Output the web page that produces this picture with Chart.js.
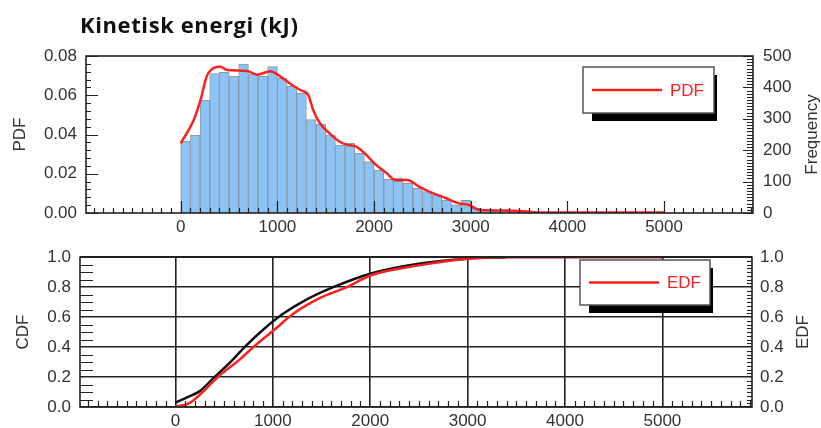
<!DOCTYPE html>
<html>
<head>
<meta charset="utf-8">
<title>Kinetisk energi</title>
<script src="https://cdn.jsdelivr.net/npm/chart.js@4.4.1/dist/chart.umd.min.js"></script>
<style>
    html, body { margin: 0; padding: 0; background: #fff; }
    #wrap { position: relative; width: 821px; height: 428px; overflow: hidden; }
    #title {
        position: absolute; left: 80px; top: 13px;
        font: 700 22px "Open Sans", sans-serif; line-height: 22px;
        letter-spacing: 0.6px; color: #111; white-space: nowrap;
    }
    #topBox { position: absolute; left: 0; top: 0; width: 821px; height: 238px; }
    #botBox { position: absolute; left: 0; top: 238px; width: 821px; height: 190px; }
</style>
</head>
<body>
<div id="wrap">
    <div id="topBox"><canvas id="pdfChart"></canvas></div>
    <div id="botBox"><canvas id="cdfChart"></canvas></div>
    <div id="title">Kinetisk energi (kJ)</div>
</div>
<script>
// Histogram: 100 kJ bins, value = PDF per bin
const binMid = [50, 150, 250, 350, 450, 550, 650, 750, 850, 950,
    1050, 1150, 1250, 1350, 1450, 1550, 1650, 1750, 1850, 1950,
    2050, 2150, 2250, 2350, 2450, 2550, 2650, 2750, 2850, 2950,
    3050, 3150, 3250, 3350, 3450, 3550];
const pdfBars = [0.0365, 0.0397, 0.0576, 0.0710, 0.0717, 0.0698, 0.0759, 0.0708, 0.0697, 0.0746,
    0.0688, 0.0646, 0.0610, 0.0476, 0.0453, 0.0397, 0.0346, 0.0355, 0.0304, 0.0262,
    0.0219, 0.0172, 0.0177, 0.0151, 0.0126, 0.0109, 0.0092, 0.0066, 0.0041, 0.0064,
    0.0025, 0.0015, 0.0010, 0.0008, 0.0004, 0.0003];

// Smoothed PDF curve
const pdfX = [0, 140, 205, 275, 410, 480, 685, 790, 925, 1030, 1130, 1235, 1320, 1370, 1440,
    1540, 1645, 1730, 1815, 1920, 2020, 2125, 2225, 2345, 2465, 2570, 2745, 2880, 2980,
    3095, 3450, 3700, 4200, 5000];
const pdfY = [0.0355, 0.0480, 0.0576, 0.0703, 0.0745, 0.0729, 0.0724, 0.0705, 0.0722, 0.0695,
    0.0660, 0.0627, 0.0601, 0.0525, 0.0457, 0.0406, 0.0363, 0.0346, 0.0338, 0.0296,
    0.0245, 0.0205, 0.0167, 0.0168, 0.0134, 0.0109, 0.0075, 0.0049, 0.0041, 0.0015,
    0.0012, 0.0003, 0.0002, 0.0002];

// Cumulative curves (black = CDF, red = EDF)
const cdfX = [0, 120, 250, 385, 590, 710, 900, 1105, 1345, 1620, 2000, 2515, 3000, 3400];
const cdfY = [0.030, 0.065, 0.106, 0.190, 0.317, 0.400, 0.516, 0.622, 0.717, 0.800, 0.890, 0.958, 0.990, 1.000];
const edfX = [0, 110, 180, 455, 660, 800, 1000, 1210, 1485, 1760, 2000, 2515, 3000, 3400, 5000];
const edfY = [0.004, 0.017, 0.042, 0.211, 0.317, 0.400, 0.507, 0.622, 0.728, 0.800, 0.878, 0.947, 0.990, 1.000, 1.000];

// Tick labels
const energyTicks = [0, 1000, 2000, 3000, 4000, 5000];
const pdfTicks = [0, 0.02, 0.04, 0.06, 0.08];
const freqTicks = [0, 100, 200, 300, 400, 500];
const probTicks = [0, 0.2, 0.4, 0.6, 0.8, 1.0];

const X_MIN = -980, X_MAX = 5920;
const labelFont = { family: 'Liberation Sans, Arial, sans-serif', size: 17 };
const labelColor = '#333';
const RED = '#ff1f1f';

const asTicks = arr => axis => { axis.ticks = arr.map(v => ({ value: v })); };

// inward tick marks + plot frame
const innerTicks = {
    id: 'innerTicks',
    afterDatasetsDraw(chart, args, opts) {
        const ctx = chart.ctx;
        const a = chart.chartArea;
        ctx.save();
        ctx.strokeStyle = '#222';
        ctx.lineWidth = 1.2;
        (opts.specs || []).forEach(spec => {
            const s = chart.scales[spec.scale];
            const first = Math.ceil(s.min / spec.step - 1e-9);
            ctx.beginPath();
            for (let i = first; i * spec.step <= s.max + 1e-9; i++) {
                const v = i * spec.step;
                const q = v / spec.major;
                const len = Math.abs(q - Math.round(q)) < 1e-6 ? spec.majorLen : spec.len;
                if (!len) continue;
                const p = Math.round(s.getPixelForValue(v)) + 0.5;
                if (spec.side === 'bottom') { ctx.moveTo(p, a.bottom); ctx.lineTo(p, a.bottom - len); }
                if (spec.side === 'left') { ctx.moveTo(a.left, p); ctx.lineTo(a.left + len, p); }
                if (spec.side === 'right') { ctx.moveTo(a.right, p); ctx.lineTo(a.right - len, p); }
            }
            ctx.stroke();
        });
        ctx.lineWidth = 1.6;
        ctx.strokeRect(a.left, a.top, a.right - a.left, a.bottom - a.top);
        ctx.restore();
    }
};

// boxed legend with drop shadow, and right-hand axis title read bottom-to-top
const boxLegend = {
    id: 'boxLegend',
    afterDraw(chart, args, o) {
        const ctx = chart.ctx;
        ctx.save();
        ctx.fillStyle = '#000';
        ctx.fillRect(o.x + 9, o.y + 8, o.w - 6, o.h);
        ctx.fillStyle = '#fff';
        ctx.fillRect(o.x, o.y, o.w, o.h);
        ctx.strokeStyle = '#555';
        ctx.lineWidth = 1.5;
        ctx.strokeRect(o.x, o.y, o.w, o.h);
        const cy = o.y + o.h / 2;
        ctx.strokeStyle = RED;
        ctx.lineWidth = 2.5;
        ctx.beginPath();
        ctx.moveTo(o.x + 9, cy);
        ctx.lineTo(o.x + 79, cy);
        ctx.stroke();
        ctx.fillStyle = RED;
        ctx.font = '17px "Liberation Sans", Arial, sans-serif';
        ctx.textBaseline = 'middle';
        ctx.fillText(o.label, o.x + 87, cy + 1);

        // right axis title
        const a = chart.chartArea;
        ctx.translate(o.rightTitleX, (a.top + a.bottom) / 2);
        ctx.rotate(-Math.PI / 2);
        ctx.fillStyle = labelColor;
        ctx.textAlign = 'center';
        ctx.fillText(o.rightTitle, 0, 0);
        ctx.restore();
    }
};

// ---- PDF / histogram chart ----
new Chart(document.getElementById('pdfChart'), {
    type: 'bar',
    data: {
        datasets: [
            {
                type: 'line',
                data: pdfX.map((x, i) => ({ x: x, y: pdfY[i] })),
                borderColor: RED,
                borderWidth: 2.5,
                pointRadius: 0,
                cubicInterpolationMode: 'monotone',
                order: 0
            },
            {
                type: 'bar',
                data: binMid.map((x, i) => ({ x: x, y: pdfBars[i] })),
                backgroundColor: '#8cc3f5',
                borderColor: '#8d97a3',
                borderWidth: 1,
                barPercentage: 1,
                categoryPercentage: 1,
                order: 1
            }
        ]
    },
    options: {
        responsive: true,
        maintainAspectRatio: false,
        animation: false,
        events: [],
        layout: { padding: { top: 56, left: 0, right: 0, bottom: 0 } },
        plugins: {
            legend: { display: false },
            tooltip: { enabled: false },
            innerTicks: {
                specs: [
                    { scale: 'x', side: 'bottom', step: 100, major: 1000, len: 5, majorLen: 12 },
                    { scale: 'y', side: 'left', step: 0.004, major: 0.02, len: 5, majorLen: 12 },
                    { scale: 'y1', side: 'right', step: 10, major: 100, len: 6, majorLen: 10 }
                ]
            },
            boxLegend: { x: 583, y: 67, w: 131, h: 46, label: 'PDF', rightTitle: 'Frequency', rightTitleX: 812 }
        },
        scales: {
            x: {
                type: 'linear',
                offset: false,
                min: X_MIN, max: X_MAX,
                afterBuildTicks: asTicks(energyTicks),
                afterFit: s => { s.height = 25; },
                grid: { display: false, drawTicks: false, offset: false },
                border: { display: false },
                ticks: { font: labelFont, color: labelColor, padding: 4, maxRotation: 0, autoSkip: false, callback: v => String(v) }
            },
            y: {
                min: 0, max: 0.08,
                afterBuildTicks: asTicks(pdfTicks),
                afterFit: s => { s.width = 86; },
                grid: { display: false, drawTicks: false },
                border: { display: false },
                ticks: { font: labelFont, color: labelColor, padding: 9, callback: v => Number(v).toFixed(2) },
                title: { display: true, text: 'PDF', font: labelFont, color: labelColor, padding: { top: 10, bottom: 0 } }
            },
            y1: {
                position: 'right',
                min: 0, max: 500,
                afterBuildTicks: asTicks(freqTicks),
                afterFit: s => { s.width = 68; },
                grid: { display: false, drawTicks: false },
                border: { display: false },
                ticks: { font: labelFont, color: labelColor, padding: 10 }
            }
        }
    },
    plugins: [innerTicks, boxLegend]
});

// ---- CDF / EDF chart ----
new Chart(document.getElementById('cdfChart'), {
    type: 'line',
    data: {
        datasets: [
            {
                data: edfX.map((x, i) => ({ x: x, y: edfY[i] })),
                borderColor: RED,
                borderWidth: 2.5,
                pointRadius: 0,
                cubicInterpolationMode: 'monotone',
                order: 0
            },
            {
                data: cdfX.map((x, i) => ({ x: x, y: cdfY[i] })),
                borderColor: '#111',
                borderWidth: 2.5,
                pointRadius: 0,
                cubicInterpolationMode: 'monotone',
                order: 1
            }
        ]
    },
    options: {
        responsive: true,
        maintainAspectRatio: false,
        animation: false,
        events: [],
        layout: { padding: { top: 11, left: 0, right: 0, bottom: 0 } },
        plugins: {
            legend: { display: false },
            tooltip: { enabled: false },
            innerTicks: {
                specs: [
                    { scale: 'x', side: 'bottom', step: 100, major: 1000, len: 6, majorLen: 0 },
                    { scale: 'y', side: 'left', step: 0.05, major: 0.2, len: 13, majorLen: 0 },
                    { scale: 'y1', side: 'right', step: 0.025, major: 0.2, len: 5, majorLen: 0 }
                ]
            },
            boxLegend: { x: 580, y: 22, w: 130, h: 45, label: 'EDF', rightTitle: 'EDF', rightTitleX: 803 }
        },
        scales: {
            x: {
                type: 'linear',
                min: X_MIN, max: X_MAX,
                afterBuildTicks: asTicks(energyTicks),
                afterFit: s => { s.height = 21; },
                grid: { color: '#222', lineWidth: 1.6, drawTicks: false },
                border: { display: false },
                ticks: { font: labelFont, color: labelColor, padding: 4, maxRotation: 0, autoSkip: false, callback: v => String(v) }
            },
            y: {
                min: 0, max: 1,
                afterBuildTicks: asTicks(probTicks),
                afterFit: s => { s.width = 80; },
                grid: { color: '#222', lineWidth: 1.6, drawTicks: false },
                border: { display: false },
                ticks: { font: labelFont, color: labelColor, padding: 9, callback: v => Number(v).toFixed(1) },
                title: { display: true, text: 'CDF', font: labelFont, color: labelColor, padding: { top: 13, bottom: 0 } }
            },
            y1: {
                position: 'right',
                min: 0, max: 1,
                afterBuildTicks: asTicks(probTicks),
                afterFit: s => { s.width = 69; },
                grid: { display: false, drawTicks: false },
                border: { display: false },
                ticks: { font: labelFont, color: labelColor, padding: 8, callback: v => Number(v).toFixed(1) }
            }
        }
    },
    plugins: [innerTicks, boxLegend]
});
</script>
</body>
</html>
